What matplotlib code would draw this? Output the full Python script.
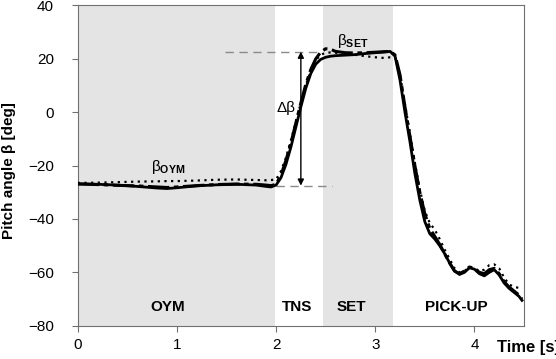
import matplotlib.pyplot as plt

plt.rcParams['font.family'] = ['Liberation Sans', 'DejaVu Sans']
plt.rcParams['mathtext.fontset'] = 'custom'
plt.rcParams['mathtext.rm'] = 'Liberation Sans'
plt.rcParams['mathtext.bf'] = 'Liberation Sans:bold'

# time axis [s]
t = [0.0, 0.2, 0.4, 0.6, 0.8, 0.9, 1.0, 1.2, 1.4, 1.6, 1.8, 1.9, 1.95, 2.0,
     2.05, 2.1, 2.15, 2.2, 2.25, 2.3, 2.35, 2.4, 2.45, 2.5, 2.55, 2.6, 2.7,
     2.8, 2.9, 3.0, 3.1, 3.15, 3.2, 3.25, 3.3, 3.35, 3.4, 3.45, 3.5, 3.55,
     3.6, 3.65, 3.7, 3.75, 3.8, 3.85, 3.9, 3.95, 4.0, 4.05, 4.1, 4.15, 4.2,
     4.25, 4.3, 4.35, 4.4, 4.45, 4.48]

# pitch angle [deg]
beta_solid = [-26.8, -27.0, -27.3, -27.8, -28.4, -28.6, -28.3, -27.6, -27.2, -27.0,
              -27.3, -27.8, -28.0, -27.3, -24.5, -19.5, -13.0, -5.5, 2.0, 9.0,
              14.5, 18.0, 19.8, 20.6, 21.0, 21.2, 21.4, 21.6, 22.0, 22.3, 22.6,
              22.8, 21.0, 12.0, 0.0, -11.0, -23.0, -33.0, -41.0, -45.5, -47.5,
              -50.0, -53.0, -56.5, -59.5, -60.8, -60.0, -58.3, -58.8, -60.5,
              -61.3, -60.0, -59.0, -61.0, -64.0, -66.0, -67.5, -69.0, -70.5]

beta_dashdot = [-26.9, -27.1, -27.4, -27.6, -28.0, -28.2, -28.0, -27.5, -27.1, -26.9,
                -27.0, -27.3, -27.5, -27.0, -23.5, -18.0, -11.5, -4.0, 3.5, 10.5,
                16.0, 20.0, 22.5, 23.8, 23.6, 22.8, 22.3, 22.2, 22.3, 22.5, 22.7,
                22.8, 21.5, 14.0, 2.0, -9.0, -20.0, -30.0, -38.0, -43.5, -46.5,
                -49.5, -53.0, -56.5, -59.5, -60.5, -59.5, -58.0, -58.5, -60.0,
                -60.5, -59.0, -58.5, -60.5, -63.5, -65.5, -67.0, -68.5, -70.0]

beta_dotted = [-26.5, -26.4, -26.2, -26.0, -25.9, -25.8, -25.8, -25.6, -25.3, -25.2,
               -25.4, -25.5, -25.4, -25.2, -22.0, -17.0, -10.5, -3.5, 3.5, 10.0,
               15.5, 19.5, 21.5, 22.3, 22.4, 22.3, 21.8, 21.5, 21.0, 20.6, 20.3,
               20.6, 20.5, 14.0, 3.0, -8.0, -19.0, -29.0, -37.0, -41.5, -44.0,
               -47.5, -51.5, -55.0, -58.5, -60.0, -59.5, -58.0, -58.5, -59.5,
               -59.0, -57.3, -57.0, -58.5, -62.0, -64.5, -65.5, -65.8, -66.0]

phase_names = ['OYM', 'TNS', 'SET', 'PICK-UP']
phase_x = [0.91, 2.21, 2.76, 3.82]
shaded = [(0.0, 1.99), (2.47, 3.18)]

fig = plt.figure(figsize=(5.56, 3.59), dpi=100)
ax = fig.add_axes([0.1398, 0.0927, 0.8026, 0.892])

for a, b in shaded:
    ax.axvspan(a, b, color='#e4e4e4', lw=0, zorder=0)

ax.plot(t, beta_dotted, color='black', lw=1.6, ls=(0, (1, 2)), zorder=3)
ax.plot(t, beta_dashdot, color='black', lw=2.2, ls=(0, (7, 1.5, 1.5, 1.5)), zorder=3)
ax.plot(t, beta_solid, color='black', lw=2.0, zorder=4)

# set-point guides and delta arrow
ax.plot([1.49, 2.46], [22.7, 22.7], color='#8a8a8a', lw=1, ls=(0, (6, 4)), zorder=2)
ax.plot([2.0, 2.56], [-27.5, -27.5], color='#8a8a8a', lw=1, ls=(0, (6, 4)), zorder=2)
ax.annotate('', xy=(2.25, 22.7), xytext=(2.25, -27.5),
            arrowprops=dict(arrowstyle='<|-|>', color='black', lw=1,
                            mutation_scale=9, shrinkA=0, shrinkB=0), zorder=5)
ax.text(2.1, 1.7, 'Δβ', fontsize=11, ha='center', va='center')
ax.text(2.77, 26.6, r'β$_\mathbf{SET}$', fontsize=11, ha='center', va='center')
ax.text(0.91, -20.6, r'β$_\mathbf{OYM}$', fontsize=11, ha='center', va='center')

for name, x in zip(phase_names, phase_x):
    ax.text(x, -73, name, fontsize=11, fontweight='bold', ha='center', va='center')

ax.set_xlim(0, 4.5)
ax.set_ylim(-80, 40)
ax.set_xticks([0, 1, 2, 3, 4])
ax.set_yticks(range(-80, 41, 20))
ax.tick_params(axis='y', direction='out', length=4, pad=13, color='#707070', labelsize=11)
ax.tick_params(axis='x', direction='out', length=4, pad=5, color='#707070', labelsize=11)
for s in ax.spines.values():
    s.set_color('#707070')

fig.text(0.016, 0.526, 'Pitch angle β [deg]', rotation=90, fontsize=11,
         fontweight='bold', ha='center', va='center')
fig.text(0.894, 0.033, 'Time [s]', fontsize=12, fontweight='bold', ha='left', va='center')

fig.savefig('out.png', dpi=100)
